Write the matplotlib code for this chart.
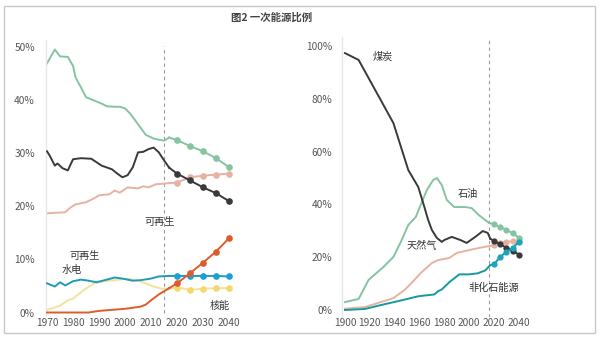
import matplotlib
matplotlib.use('Agg')
import matplotlib.pyplot as plt
from matplotlib.patches import Rectangle

plt.rcParams['font.family'] = ['Noto Sans CJK SC', 'DejaVu Sans']

# ------------------------------------------------------------------------
# Data: left panel, 1970-2040 (%)

base_left = 2015
proj_years = [2020, 2025, 2030, 2035, 2040]

oil_years = [1970, 1973, 1975, 1978, 1980, 1981, 1983, 1985, 1988, 1991, 1993,
             1996, 1998, 2000, 2002, 2005, 2008, 2011, 2013, 2015, 2017]
oil_vals = [47.0, 49.6, 48.3, 48.2, 46.5, 44.3, 42.5, 40.6, 40.0, 39.4, 38.9,
            38.8, 38.8, 38.5, 37.5, 35.5, 33.5, 32.8, 32.6, 32.4, 33.0]
oil_proj = [32.5, 31.4, 30.4, 29.1, 27.4]

coal_years = [1970, 1971, 1973, 1974, 1976, 1978, 1980, 1983, 1987, 1991, 1995,
              1997, 1999, 2001, 2003, 2005, 2007, 2009, 2011, 2013, 2015, 2017]
coal_vals = [30.4, 29.6, 27.7, 28.1, 27.2, 26.8, 28.9, 29.1, 29.0, 27.7, 27.0,
             26.2, 25.5, 25.9, 27.4, 30.2, 30.3, 30.8, 31.1, 30.2, 28.7, 27.3]
coal_proj = [26.2, 24.9, 23.6, 22.5, 21.0]

gas_years = [1970, 1973, 1977, 1979, 1981, 1985, 1988, 1990, 1994, 1996, 1998,
             2001, 2005, 2007, 2009, 2012, 2015, 2017]
gas_vals = [18.7, 18.8, 18.9, 19.8, 20.4, 20.8, 21.5, 22.1, 22.3, 23.0, 22.6,
            23.6, 23.4, 23.8, 23.6, 24.2, 24.3, 24.4]
gas_proj = [24.5, 25.5, 25.8, 26.0, 26.2]

hydro_years = [1970, 1972, 1973, 1975, 1977, 1980, 1983, 1986, 1989, 1993, 1996,
               1999, 2003, 2006, 2010, 2013, 2017]
hydro_vals = [5.5, 5.1, 4.9, 5.7, 5.1, 5.9, 6.2, 6.0, 5.7, 6.2, 6.6,
              6.4, 6.0, 6.1, 6.4, 6.8, 6.9]
hydro_proj = [6.9, 6.9, 6.9, 6.9, 6.8]

nuc_years = [1970, 1972, 1975, 1978, 1980, 1984, 1988, 1992, 1996, 2001, 2005,
             2008, 2011, 2014, 2017]
nuc_vals = [0.5, 0.8, 1.3, 2.3, 2.6, 4.2, 5.5, 5.9, 6.1, 6.4, 6.0,
            5.5, 4.9, 4.5, 4.5]
nuc_proj = [4.7, 4.3, 4.5, 4.6, 4.6]

ren_years = [1970, 1986, 1990, 2000, 2006, 2008, 2010, 2013, 2015, 2017]
ren_vals = [0.0, 0.0, 0.3, 0.7, 1.1, 1.5, 2.3, 3.4, 4.0, 4.6]
ren_proj = [5.5, 7.4, 9.4, 11.5, 14.0]

# ------------------------------------------------------------------------
# Data: right panel, 1900-2040 (%)

base_right = 2016

coal_r_years = [1900, 1911, 1939, 1951, 1959, 1963, 1967, 1970, 1974, 1978, 1980,
                1986, 1993, 1998, 2005, 2011, 2015, 2017]
coal_r_vals = [97.3, 94.7, 70.8, 53.0, 46.6, 40.5, 34.1, 30.3, 27.3, 25.8, 26.5,
               27.7, 26.5, 25.4, 27.7, 29.9, 29.2, 27.0]

oil_r_years = [1900, 1911, 1919, 1931, 1939, 1945, 1951, 1957, 1961, 1966, 1971,
               1974, 1978, 1982, 1988, 1997, 2002, 2008, 2016]
oil_r_vals = [3.0, 4.2, 11.4, 16.3, 20.1, 25.8, 32.2, 35.2, 39.8, 45.5, 49.2,
              50.0, 47.3, 41.7, 39.0, 39.0, 38.6, 35.9, 33.0]

gas_r_years = [1900, 1916, 1939, 1948, 1956, 1961, 1970, 1975, 1984, 1990, 2000,
               2008, 2016]
gas_r_vals = [0.5, 1.1, 4.5, 7.6, 11.4, 14.0, 17.8, 18.9, 19.7, 21.6, 22.7,
              23.5, 24.2]

nf_r_years = [1900, 1916, 1931, 1945, 1959, 1972, 1975, 1978, 1984, 1992, 2000,
              2007, 2013, 2017]
nf_r_vals = [0.0, 0.4, 2.1, 3.6, 5.2, 5.9, 7.1, 7.8, 10.5, 13.5, 13.5,
             13.9, 15.0, 17.0]
nf_r_proj = [17.3, 20.1, 22.0, 23.5, 25.8]

# ------------------------------------------------------------------------
# Styles

c_oil = '#85c4a0'
c_coal = '#3a3a3a'
c_gas = '#e6b2a2'
c_ren = '#de5b2c'
c_hydro, c_hydro_m = '#1f9bb8', '#1ba0d6'
c_nuc, c_nuc_m = '#f5e29a', '#f3d870'
c_nf, c_nf_m = '#169a9f', '#1aa6b8'

txt = '#333333'
tick_col = '#555555'


def series(ax, years, vals, proj, color, mcolor=None, ms=4.8, z=2):
    ax.plot(years, vals, color=color, lw=1.4, zorder=z, solid_joinstyle='round')
    if proj is None:
        return
    ax.plot([years[-1]] + proj_years, [vals[-1]] + proj, color=color, lw=1.4, zorder=z)
    ax.plot(proj_years, proj, ls='none', marker='o', ms=ms,
            color=mcolor or color, mec='none', zorder=z + 0.5)


def style(ax):
    for s in ['top', 'right', 'bottom']:
        ax.spines[s].set_visible(False)
    ax.spines['left'].set_color('#e6e6e6')
    ax.spines['left'].set_linewidth(1.0)
    ax.tick_params(length=0, labelsize=7.3, colors=tick_col)
    ax.set_facecolor('none')


# ------------------------------------------------------------------------
# Plotting

fig = plt.figure(figsize=(6, 3.4), dpi=100)
fig.patches.append(Rectangle((4 / 600, 7 / 340), 591 / 600, 327 / 340,
                             transform=fig.transFigure, fill=False,
                             ec='#c8c8c8', lw=1.0))

fig.text(0.452, 0.948, '图2 一次能源比例', ha='center', va='center',
         fontsize=7.5, fontweight='bold', color='#444444')

# left
ax1 = fig.add_axes([46 / 600, 0.0715, 196 / 600, 0.811])
series(ax1, nuc_years, nuc_vals, nuc_proj, c_nuc, c_nuc_m)
series(ax1, hydro_years, hydro_vals, hydro_proj, c_hydro, c_hydro_m, z=3)
series(ax1, ren_years, ren_vals, ren_proj, c_ren, z=4)
series(ax1, gas_years, gas_vals, gas_proj, c_gas)
series(ax1, coal_years, coal_vals, coal_proj, c_coal, z=3)
series(ax1, oil_years, oil_vals, oil_proj, c_oil)
ax1.vlines(base_left, 0, 50.3, colors='#9a9a9a', linestyles=(0, (3, 3)), lw=0.8, zorder=1)

ax1.set_xlim(1969.6, 2045)
ax1.set_ylim(-0.6, 51.4)
ax1.set_xticks(range(1970, 2041, 10))
ax1.set_yticks(range(0, 51, 10))
ax1.set_yticklabels([f'{v}%' for v in range(0, 51, 10)])
style(ax1)
ax1.tick_params(axis='y', pad=8)
ax1.tick_params(axis='x', pad=2)

ax1.text(2013.4, 17.1, '可再生', fontsize=7.3, color=txt, ha='center', va='center')
ax1.text(1984.6, 10.7, '可再生', fontsize=7.3, color=txt, ha='center', va='center')
ax1.text(1979.6, 8.0, '水电', fontsize=7.3, color=txt, ha='center', va='center')
ax1.text(2036.5, 1.2, '核能', fontsize=7.3, color=txt, ha='center', va='center')

# right
ax2 = fig.add_axes([342 / 600, 0.0688, 183 / 600, 0.8224])
series(ax2, gas_r_years, gas_r_vals, gas_proj, c_gas, ms=4.5)
series(ax2, oil_r_years, oil_r_vals, oil_proj, c_oil, ms=4.5)
series(ax2, coal_r_years, coal_r_vals, coal_proj, c_coal, ms=4.5, z=3)
series(ax2, nf_r_years, nf_r_vals, nf_r_proj, c_nf, c_nf_m, ms=4.5, z=4)
ax2.vlines(base_right, -2.5, 103, colors='#9a9a9a', linestyles=(0, (3, 3)), lw=0.8, zorder=1)

ax2.set_xlim(1897.6, 2045)
ax2.set_ylim(-2.5, 103.4)
ax2.set_xticks(range(1900, 2041, 20))
ax2.set_yticks(range(0, 101, 20))
ax2.set_yticklabels([f'{v}%' for v in range(0, 101, 20)])
style(ax2)
ax2.tick_params(axis='y', pad=7)
ax2.tick_params(axis='x', pad=1)

ax2.text(1930.7, 95.8, '煤炭', fontsize=7.3, color=txt, ha='center', va='center')
ax2.text(1999.2, 43.9, '石油', fontsize=7.3, color=txt, ha='center', va='center')
ax2.text(1962.1, 24.2, '天然气', fontsize=7.3, color=txt, ha='center', va='center')
ax2.text(2020.2, 8.3, '非化石能源', fontsize=7.3, color=txt, ha='center', va='center')

fig.savefig('out.png', dpi=100)
